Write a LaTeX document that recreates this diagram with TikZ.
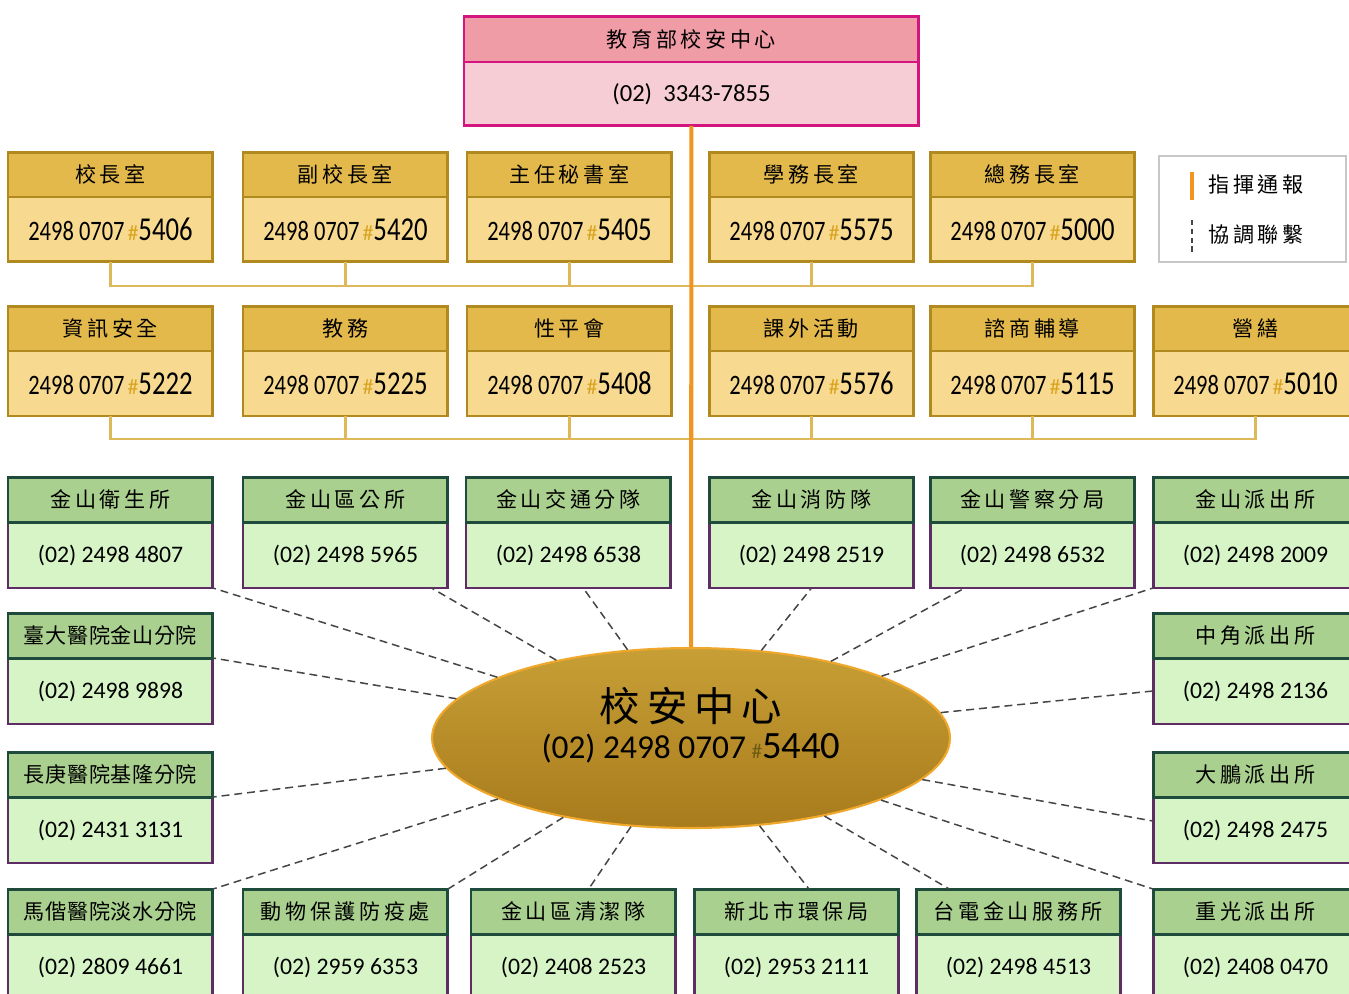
\documentclass[tikz,border=0pt]{standalone}
\usepackage{fontspec}
\usetikzlibrary{positioning,shapes.geometric}
\setmainfont{Carlito}
\newfontfamily\cjk[LetterSpace=17]{Noto Sans CJK TC}
\newfontfamily\cjktight[LetterSpace=3]{Noto Sans CJK TC}
\newfontfamily\narrow[FakeStretch=0.8]{Carlito}

\definecolor{pinkline}{HTML}{D4157F}
\definecolor{pinkhead}{HTML}{F09CA6}
\definecolor{pinkbody}{HTML}{F6CDD4}
\definecolor{goldline}{HTML}{B08A1E}
\definecolor{goldhead}{HTML}{E4B94C}
\definecolor{goldbody}{HTML}{F7D990}
\definecolor{goldtree}{HTML}{DDB95A}
\definecolor{hashgold}{HTML}{D9A521}
\definecolor{hashdark}{HTML}{6B5A12}
\definecolor{greenline}{HTML}{1E4B3C}
\definecolor{greenhead}{HTML}{A9D08E}
\definecolor{greenbody}{HTML}{D6F4C6}
\definecolor{plum}{HTML}{5E2D63}
\definecolor{cmdline}{HTML}{F29422}
\definecolor{hubtop}{HTML}{C79F36}
\definecolor{hubmid}{HTML}{E6BA4A}
\definecolor{hubbot}{HTML}{A87B1C}
\definecolor{hubline}{HTML}{F0A82C}
\definecolor{linkgrey}{HTML}{454545}

\newcommand{\ext}[1]{{\narrow\fontsize{16}{18}\selectfont 2498 0707}\,{\color{hashgold}\fontsize{12.5}{13}\selectfont\#}{\narrow\fontsize{19}{20}\selectfont #1}}

\tikzset{
  box/.style={minimum width=4.1cm, inner sep=0pt, outer sep=0pt, line width=1.7pt},
  phead/.style={box, draw=pinkline, fill=pinkhead, minimum width=9.1cm, minimum height=0.92cm, font=\cjk\fontsize{12}{14}\selectfont},
  pbody/.style={box, draw=pinkline, fill=pinkbody, minimum width=9.1cm, minimum height=1.28cm, anchor=north west, font=\fontsize{14}{16}\selectfont},
  ahead/.style={box, draw=goldline, fill=goldhead, minimum height=0.9cm, font=\cjk\fontsize{12}{14}\selectfont},
  abody/.style={box, draw=goldline, fill=goldbody, minimum height=1.3cm, anchor=north west},
  ghead/.style={box, draw=greenline, fill=greenhead, minimum height=0.9cm, font=\cjk\fontsize{12}{14}\selectfont},
  gbody/.style={box, draw=plum, fill=greenbody, minimum height=1.32cm, anchor=north west, font=\fontsize{13.5}{16}\selectfont},
  hub/.style={ellipse, draw=hubline, line width=1.2pt, top color=hubtop, middle color=hubmid, bottom color=hubbot, minimum width=10.36cm, minimum height=3.6cm, inner sep=0pt, align=center, text depth=17pt},
  tree/.style={draw=goldtree, line width=1.2pt},
  cmd/.style={draw=cmdline, line width=2.3pt},
  link/.style={draw=linkgrey, line width=0.85pt, dash pattern=on 4.5pt off 2.8pt},
  key/.style={draw=black!22, line width=1.1pt, minimum width=3.74cm, minimum height=2.12cm, anchor=north west},
}

\begin{document}
\begin{tikzpicture}[x=0.02cm, y=-0.02cm]
\useasboundingbox[fill=white] (0,0) rectangle (1349,994);

% ministry
\node[pbody] (moe) at (464,62) {(02)\ \ 3343-7855};
\node[phead, above=0pt of moe] (moeh) {教育部校安中心};

% school offices
\node[abody] (a1) at (8,197) {\ext{5406}};
\node[ahead, above=0pt of a1] (a1h) {校長室};
\node[abody] (a2) at (243,197) {\ext{5420}};
\node[ahead, above=0pt of a2] (a2h) {副校長室};
\node[abody] (a3) at (467,197) {\ext{5405}};
\node[ahead, above=0pt of a3] (a3h) {主任秘書室};
\node[abody] (a4) at (709,197) {\ext{5575}};
\node[ahead, above=0pt of a4] (a4h) {學務長室};
\node[abody] (a5) at (930,197) {\ext{5000}};
\node[ahead, above=0pt of a5] (a5h) {總務長室};

\node[abody] (c1) at (8,351) {\ext{5222}};
\node[ahead, above=0pt of c1] (c1h) {資訊安全};
\node[abody] (c2) at (243,351) {\ext{5225}};
\node[ahead, above=0pt of c2] (c2h) {教務};
\node[abody] (c3) at (467,351) {\ext{5408}};
\node[ahead, above=0pt of c3] (c3h) {性平會};
\node[abody] (c4) at (709,351) {\ext{5576}};
\node[ahead, above=0pt of c4] (c4h) {課外活動};
\node[abody] (c5) at (930,351) {\ext{5115}};
\node[ahead, above=0pt of c5] (c5h) {諮商輔導};
\node[abody] (c6) at (1153,351) {\ext{5010}};
\node[ahead, above=0pt of c6] (c6h) {營繕};

% legend
\node[key] (key) at (1158,155) {};
\node[font=\cjk\fontsize{12}{14}\selectfont] (k1) at (1256,185) {指揮通報};
\node[font=\cjk\fontsize{12}{14}\selectfont] (k2) at (1256,235) {協調聯繫};
\coordinate (m1) at (1192,172);
\coordinate (m2) at (1192,220);
\draw[cmd, line width=2pt] (m1) -- ++(0,28);
\draw[linkgrey, line width=0.7pt, dash pattern=on 3pt off 2pt] (m2) -- ++(0,33);

% outside units
\node[gbody] (q1) at (8,522) {(02) 2498 4807};
\node[ghead, above=0pt of q1] (q1h) {金山衛生所};
\node[gbody] (q2) at (243,522) {(02) 2498 5965};
\node[ghead, above=0pt of q2] (q2h) {金山區公所};
\node[gbody] (q3) at (466,522) {(02) 2498 6538};
\node[ghead, above=0pt of q3] (q3h) {金山交通分隊};
\node[gbody] (q4) at (709,522) {(02) 2498 2519};
\node[ghead, above=0pt of q4] (q4h) {金山消防隊};
\node[gbody] (q5) at (930,522) {(02) 2498 6532};
\node[ghead, above=0pt of q5] (q5h) {金山警察分局};
\node[gbody] (q6) at (1153,522) {(02) 2498 2009};
\node[ghead, above=0pt of q6] (q6h) {金山派出所};

\node[gbody] (l1) at (8,658) {(02) 2498 9898};
\node[ghead, above=0pt of l1, font=\cjktight\fontsize{12}{14}\selectfont] (l1h) {臺大醫院金山分院};
\node[gbody] (l2) at (8,797) {(02) 2431 3131};
\node[ghead, above=0pt of l2, font=\cjktight\fontsize{12}{14}\selectfont] (l2h) {長庚醫院基隆分院};
\node[gbody] (r1) at (1153,658) {(02) 2498 2136};
\node[ghead, above=0pt of r1] (r1h) {中角派出所};
\node[gbody] (r2) at (1153,797) {(02) 2498 2475};
\node[ghead, above=0pt of r2] (r2h) {大鵬派出所};

\node[gbody] (b1) at (8,934) {(02) 2809 4661};
\node[ghead, above=0pt of b1, font=\cjktight\fontsize{12}{14}\selectfont] (b1h) {馬偕醫院淡水分院};
\node[gbody] (b2) at (243,934) {(02) 2959 6353};
\node[ghead, above=0pt of b2] (b2h) {動物保護防疫處};
\node[gbody] (b3) at (471,934) {(02) 2408 2523};
\node[ghead, above=0pt of b3] (b3h) {金山區清潔隊};
\node[gbody] (b4) at (694,934) {(02) 2953 2111};
\node[ghead, above=0pt of b4] (b4h) {新北市環保局};
\node[gbody] (b5) at (916,934) {(02) 2498 4513};
\node[ghead, above=0pt of b5] (b5h) {台電金山服務所};
\node[gbody] (b6) at (1153,934) {(02) 2408 0470};
\node[ghead, above=0pt of b6] (b6h) {重光派出所};

% center
\node[hub] (hub) at (691,738) {{\cjk\fontsize{23}{25}\selectfont 校安中心}\\[4pt]
  {\fontsize{19}{22}\selectfont (02) 2498 0707\,{\color{hashdark}\fontsize{12}{12}\selectfont\#}{\fontsize{22}{22}\selectfont 5440}}};

% command lines
\coordinate (bus1) at (691,286);
\coordinate (bus2) at (691,439);
\draw[tree] (a1.south) |- (bus1) -| (a5.south);
\draw[tree] (a2.south) -- (a2.south |- bus1);
\draw[tree] (a3.south) -- (a3.south |- bus1);
\draw[tree] (a4.south) -- (a4.south |- bus1);
\draw[tree] (c1.south) |- (bus2) -| (c6.south);
\draw[tree] (c2.south) -- (c2.south |- bus2);
\draw[tree] (c3.south) -- (c3.south |- bus2);
\draw[tree] (c4.south) -- (c4.south |- bus2);
\draw[tree] (c5.south) -- (c5.south |- bus2);
\draw[cmd] (moe.south) -- (hub);

% coordination
\draw[link] (hub) -- (q1.south east);
\draw[link] (hub) -- (q2.-21);
\draw[link] (hub) -- (q3.-66);
\draw[link] (hub) -- (q4.south);
\draw[link] (hub) -- (q5.-154);
\draw[link] (hub) -- (q6.south west);
\draw[link] (hub) -- (l1.north east);
\draw[link] (hub) -- (l2.north east);
\draw[link] (hub) -- (r1.west);
\draw[link] (hub) -- (r2.175);
\draw[link] (hub) -- (b1h.north east);
\draw[link] (hub) -- (b2h.north east);
\draw[link] (hub) -- (b3h.56);
\draw[link] (hub) -- (b4h.61);
\draw[link] (hub) -- (b5h.162);
\draw[link] (hub) -- (b6h.north west);
\end{tikzpicture}
\end{document}
